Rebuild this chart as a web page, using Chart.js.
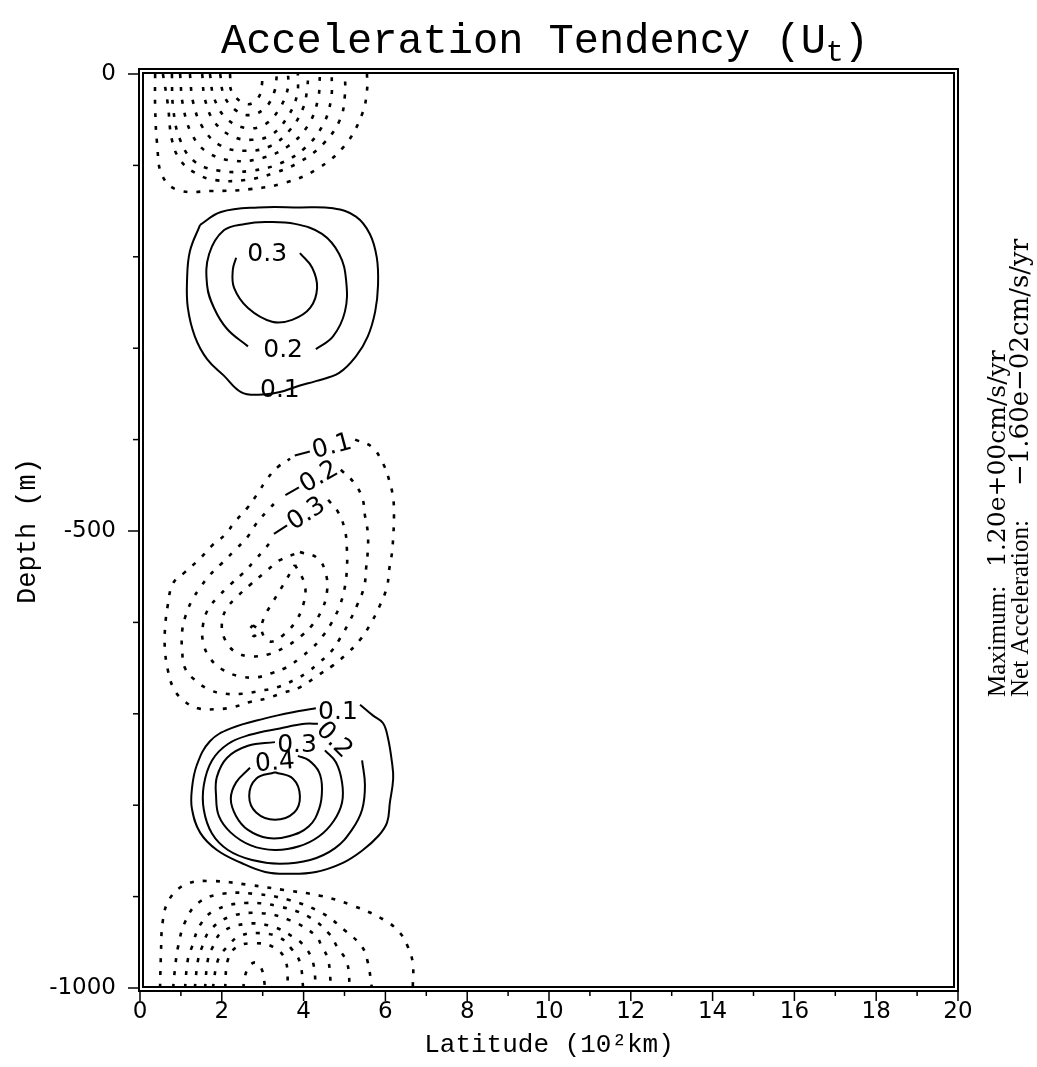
<!DOCTYPE html>
<html>
<head>
<meta charset="utf-8">
<title>Acceleration Tendency (Ut)</title>
<script src="https://cdn.jsdelivr.net/npm/chart.js@4.4.1/dist/chart.umd.min.js"></script>
<style>
  html, body { margin: 0; padding: 0; background: #fff; }
  #wrap { width: 1037px; height: 1067px; }
</style>
</head>
<body>
<div id="wrap"><canvas id="chart" width="1037" height="1067"></canvas></div>
<script>
/* ================= AXES ================= */
const latTicks = [0, 1, 2, 3, 4, 5, 6, 7, 8, 9, 10, 11, 12, 13, 14, 15, 16, 17, 18, 19, 20];
const latLabels = [0, 2, 4, 6, 8, 10, 12, 14, 16, 18, 20];
const depthTicks = [0, -100, -200, -300, -400, -500, -600, -700, -800, -900, -1000];
const depthLabels = [0, -500, -1000];

/* ================= CONTOURS ================= */
// every curve is a list of [latitude (10^2 km), depth (m)] pairs

// negative cell against the surface (curves end on the top boundary)
const topTrough = [
  [[0.37, 0], [0.37, -36], [0.42, -77], [0.54, -111], [0.93, -127], [1.76, -128], [2.69, -126], [3.55, -119], [4.33, -104], [5.01, -78], [5.43, -44], [5.55, -18], [5.55, 0]],
  [[0.56, 0], [0.68, -33], [0.78, -72], [0.98, -94], [1.34, -108], [1.83, -116], [2.57, -116], [3.30, -108], [3.91, -96], [4.47, -77], [4.89, -50], [5.01, -23], [5.01, 0]],
  [[0.78, 0], [0.81, -37], [0.98, -72], [1.34, -96], [1.96, -106], [2.69, -106], [3.42, -98], [4.03, -81], [4.47, -56], [4.67, -28], [4.69, 0]],
  [[0.98, 0], [1.05, -34], [1.27, -66], [1.66, -86], [2.32, -95], [2.98, -92], [3.62, -79], [4.11, -56], [4.35, -28], [4.40, 0]],
  [[1.22, 0], [1.30, -31], [1.54, -59], [1.96, -78], [2.57, -84], [3.18, -79], [3.67, -61], [3.99, -37], [4.09, -15], [4.11, 0]],
  [[1.52, 0], [1.59, -28], [1.83, -53], [2.25, -68], [2.74, -72], [3.23, -66], [3.62, -46], [3.84, -23], [3.86, 0]],
  [[1.71, 0], [1.81, -26], [2.10, -48], [2.57, -59], [3.06, -55], [3.42, -37], [3.62, -15], [3.62, 0]],
  [[1.96, 0], [2.05, -23], [2.32, -39], [2.69, -45], [3.06, -37], [3.28, -20], [3.35, 0]],
  [[2.20, 0], [2.25, -20], [2.62, -33], [2.89, -26], [2.98, -12], [2.98, 0]],
];

// positive cell, levels 0.1 / 0.2 / 0.3
const upperCore = [
  [[1.47, -165], [1.98, -151], [2.89, -146], [3.89, -146], [4.72, -147], [5.28, -156], [5.62, -175], [5.79, -201], [5.82, -231], [5.75, -260], [5.57, -287], [5.28, -309], [4.87, -327], [4.30, -336], [3.89, -341], [3.42, -348], [2.89, -351], [2.47, -348], [2.05, -330], [1.64, -312], [1.34, -287], [1.17, -256], [1.15, -226], [1.22, -194]],
  [[4.30, -301], [4.72, -287], [5.01, -260], [5.04, -226], [4.87, -197], [4.45, -175], [3.79, -164], [3.06, -162], [2.57, -164], [2.05, -171], [1.69, -197], [1.64, -231], [1.81, -256], [2.13, -279], [2.64, -298]],
  [[3.91, -196], [4.21, -212], [4.33, -234], [4.16, -256], [3.72, -269], [3.23, -271], [2.64, -256], [2.30, -234], [2.27, -214], [2.35, -201]],
];
const upperCoreClosed = [true, false, false];
const upperCoreLabels = [["0.3", 3.11, -198], ["0.2", 3.50, -302], ["0.1", 3.42, -346]];

// negative cell in mid depth, levels -0.1 ... -0.6
const midTrough = [
  [[5.26, -400], [5.67, -408], [5.94, -426], [6.09, -444], [6.19, -464], [6.21, -485], [6.19, -507], [6.16, -524], [6.09, -543], [6.04, -561], [5.87, -581], [5.62, -603], [5.38, -619], [5.09, -633], [4.72, -647], [4.35, -658], [3.91, -671], [3.50, -677], [3.11, -683], [2.69, -687], [2.25, -693], [1.83, -695], [1.42, -694], [1.05, -685], [0.81, -671], [0.68, -652], [0.61, -630], [0.61, -608], [0.68, -581], [0.81, -557], [1.10, -545], [1.47, -530], [1.76, -516], [2.08, -504], [2.32, -490], [2.62, -475], [2.89, -458], [3.11, -443], [3.37, -430], [3.67, -421]],
  [[4.91, -433], [5.21, -446], [5.43, -463], [5.50, -483], [5.57, -502], [5.57, -521], [5.53, -540], [5.48, -561], [5.31, -581], [5.11, -600], [4.91, -616], [4.67, -632], [4.38, -644], [4.08, -655], [3.77, -663], [3.35, -671], [2.93, -675], [2.52, -678], [2.08, -678], [1.71, -674], [1.34, -663], [1.10, -650], [1.03, -630], [1.03, -610], [1.12, -592], [1.27, -576], [1.47, -562], [1.71, -548], [2.03, -534], [2.32, -521], [2.62, -507], [2.86, -491], [3.13, -477], [3.37, -466]],
  [[4.60, -466], [4.84, -479], [5.01, -499], [5.06, -521], [5.06, -540], [5.01, -561], [4.89, -581], [4.69, -600], [4.45, -616], [4.21, -628], [3.91, -639], [3.59, -649], [3.25, -655], [2.86, -660], [2.44, -659], [2.03, -652], [1.71, -639], [1.54, -621], [1.54, -603], [1.66, -586], [1.91, -572], [2.20, -559], [2.52, -546], [2.81, -532], [3.06, -519], [3.23, -510]],
  [[3.91, -523], [4.35, -530], [4.55, -548], [4.57, -567], [4.45, -586], [4.21, -603], [3.91, -616], [3.55, -627], [3.13, -635], [2.69, -637], [2.32, -632], [2.08, -619], [2.00, -603], [2.10, -586], [2.35, -573], [2.69, -559], [3.06, -545], [3.42, -532]],
  [[3.79, -537], [4.03, -559], [3.99, -581], [3.79, -600], [3.50, -614], [3.18, -621], [2.98, -610], [3.03, -595], [3.23, -579], [3.50, -559]],
  [[2.76, -603], [2.89, -608], [2.79, -615], [2.67, -609]],
];
const midTroughClosed = [false, false, false, true, true, true];
const midTroughLabels = [["\u22120.1", 4.45, -411], ["\u22120.2", 4.16, -447], ["\u22120.3", 3.86, -488]];
const midTroughTilt = [-15, -30, -33];

// positive cell near the bottom, levels 0.1 ... 0.5
const lowerCore = [
  [[5.38, -690], [5.70, -702], [5.94, -710], [6.06, -726], [6.16, -753], [6.19, -771], [6.11, -797], [6.04, -819], [5.82, -834], [5.45, -849], [4.96, -863], [4.30, -873], [3.62, -875], [3.06, -873], [2.47, -863], [1.88, -849], [1.47, -830], [1.27, -804], [1.27, -782], [1.39, -756], [1.71, -730], [2.22, -716], [3.06, -705], [3.89, -697], [4.30, -694]],
  [[5.43, -751], [5.50, -778], [5.43, -805], [5.18, -827], [4.77, -847], [4.16, -860], [3.42, -864], [2.74, -860], [2.15, -849], [1.76, -831], [1.56, -805], [1.56, -778], [1.76, -751], [2.15, -733], [2.69, -723], [3.42, -716], [4.03, -711], [4.35, -711]],
  [[3.30, -731], [2.64, -735], [2.13, -748], [1.88, -769], [1.86, -790], [1.93, -812], [2.22, -830], [2.71, -844], [3.30, -849], [3.89, -845], [4.38, -834], [4.74, -817], [4.94, -797], [4.94, -775], [4.79, -753], [4.52, -740]],
  [[2.69, -759], [2.35, -775], [2.22, -793], [2.35, -812], [2.64, -827], [3.13, -836], [3.64, -834], [4.13, -823], [4.38, -804], [4.45, -782], [4.38, -764], [4.13, -751], [3.86, -746]],
  [[3.30, -764], [3.74, -771], [3.91, -790], [3.77, -808], [3.30, -816], [2.84, -808], [2.67, -790], [2.84, -771]],
];
const lowerCoreClosed = [false, false, false, false, true];
const lowerCoreLabels = [["0.1", 4.84, -699], ["0.2", 4.74, -729], ["0.3", 3.84, -735], ["0.4", 3.30, -754]];
const lowerCoreTilt = [0, 45, 0, -5];

// negative cell against the bottom (curves end on the bottom boundary)
const bottomTrough = [
  [[0.49, -1000], [0.51, -966], [0.56, -926], [0.73, -902], [1.15, -886], [1.76, -883], [2.64, -887], [3.55, -893], [4.40, -899], [5.21, -910], [5.99, -926], [6.36, -940], [6.55, -955], [6.67, -973], [6.67, -1000]],
  [[0.81, -1000], [0.86, -977], [0.93, -955], [1.10, -928], [1.42, -907], [2.00, -897], [2.81, -897], [3.67, -904], [4.45, -918], [5.01, -937], [5.43, -955], [5.57, -972], [5.67, -1000]],
  [[1.10, -1000], [1.17, -969], [1.27, -955], [1.47, -931], [1.83, -915], [2.57, -907], [3.42, -911], [4.16, -923], [4.65, -942], [4.82, -955], [5.06, -972], [5.13, -1000]],
  [[1.34, -1000], [1.42, -969], [1.52, -955], [1.71, -937], [2.20, -922], [2.93, -918], [3.67, -926], [4.28, -942], [4.45, -955], [4.60, -969], [4.67, -1000]],
  [[1.59, -1000], [1.66, -969], [1.78, -955], [2.00, -939], [2.57, -930], [3.18, -932], [3.74, -944], [4.03, -955], [4.23, -972], [4.30, -1000]],
  [[1.78, -1000], [1.91, -969], [2.13, -955], [2.44, -943], [2.93, -940], [3.42, -945], [3.72, -958], [3.91, -972], [3.99, -1000]],
  [[2.08, -1000], [2.15, -969], [2.37, -955], [2.81, -951], [3.25, -955], [3.55, -969], [3.62, -1000]],
  [[2.52, -1000], [2.62, -980], [2.81, -972], [2.98, -980], [3.06, -1000]],
];

/* ================= DATASETS ================= */
function curveDataset(points, closed, dashed) {
  const data = points.map(([x, y]) => ({ x, y }));
  if (closed) data.push({ ...data[0] });
  return {
    data,
    showLine: true,
    fill: false,
    borderColor: "#000",
    borderWidth: dashed ? 2.6 : 2,
    borderDash: dashed ? [4, 9] : [],
    pointRadius: 0,
    pointHoverRadius: 0,
    tension: 0.4,
  };
}

const datasets = [
  ...topTrough.map((c) => curveDataset(c, false, true)),
  ...upperCore.map((c, i) => curveDataset(c, upperCoreClosed[i], false)),
  ...midTrough.map((c, i) => curveDataset(c, midTroughClosed[i], true)),
  ...lowerCore.map((c, i) => curveDataset(c, lowerCoreClosed[i], false)),
  ...bottomTrough.map((c) => curveDataset(c, false, true)),
];

/* ================= PLUGINS ================= */
// double frame plus long/short tick marks
const framePlugin = {
  id: "frame",
  afterDatasetsDraw(chart) {
    const { ctx, chartArea: a, scales } = chart;
    ctx.save();
    ctx.strokeStyle = "#000";
    ctx.lineWidth = 2;
    ctx.strokeRect(a.left - 1, a.top - 5, a.right - a.left + 1, a.bottom - a.top + 8);
    ctx.strokeRect(a.left + 3, a.top - 1, a.right - a.left - 7, a.bottom - a.top);

    ctx.lineWidth = 1.5;
    latTicks.forEach((v) => {
      const x = scales.x.getPixelForValue(v);
      const len = latLabels.includes(v) ? 10 : 5;
      ctx.beginPath();
      ctx.moveTo(x, a.bottom + 3);
      ctx.lineTo(x, a.bottom + 3 + len);
      ctx.stroke();
    });
    depthTicks.forEach((v) => {
      const y = scales.y.getPixelForValue(v);
      const len = depthLabels.includes(v) ? 11 : 6;
      ctx.beginPath();
      ctx.moveTo(a.left - 1, y);
      ctx.lineTo(a.left - 1 - len, y);
      ctx.stroke();
    });
    ctx.restore();
  },
};

// contour level labels
function drawLabels(ctx, scales, labels, tilt) {
  labels.forEach(([text, lat, depth], i) => {
    const x = scales.x.getPixelForValue(lat);
    const y = scales.y.getPixelForValue(depth);
    ctx.save();
    ctx.translate(x, y);
    ctx.rotate(((tilt ? tilt[i] : 0) * Math.PI) / 180);
    ctx.fillText(text, 0, 0);
    ctx.restore();
  });
}

const labelPlugin = {
  id: "contourLabels",
  afterDatasetsDraw(chart) {
    const { ctx, scales } = chart;
    ctx.save();
    ctx.fillStyle = "#000";
    ctx.font = '25px "DejaVu Sans"';
    ctx.textAlign = "center";
    ctx.textBaseline = "middle";
    drawLabels(ctx, scales, upperCoreLabels, null);
    drawLabels(ctx, scales, midTroughLabels, midTroughTilt);
    drawLabels(ctx, scales, lowerCoreLabels, lowerCoreTilt);
    ctx.restore();
  },
};

// rotated text, read bottom to top, starting at (x, y)
function upText(ctx, text, x, y) {
  ctx.save();
  ctx.translate(x, y);
  ctx.rotate(-Math.PI / 2);
  ctx.fillText(text, 0, 0);
  ctx.restore();
}

// title with subscript and the summary on the right
const notesPlugin = {
  id: "notes",
  afterDraw(chart) {
    const { ctx } = chart;
    ctx.save();
    ctx.fillStyle = "#000";
    ctx.textBaseline = "alphabetic";

    const big = '42px "Liberation Mono"';
    const small = '30px "Liberation Mono"';
    const head = "Acceleration Tendency (U";
    ctx.font = big;
    const w1 = ctx.measureText(head).width;
    const w3 = ctx.measureText(")").width;
    ctx.font = small;
    const w2 = ctx.measureText("t").width;
    let x = 545 - (w1 + w2 + w3) / 2;
    ctx.font = big;
    ctx.fillText(head, x, 53);
    x += w1;
    ctx.font = small;
    ctx.fillText("t", x, 61);
    x += w2;
    ctx.font = big;
    ctx.fillText(")", x, 53);

    ctx.textAlign = "left";
    ctx.textBaseline = "middle";
    ctx.font = '25px "Liberation Serif"';
    upText(ctx, "Maximum:", 998, 697);
    upText(ctx, "Net Acceleration:", 1021, 697);
    ctx.font = '25px "DejaVu Serif"';
    upText(ctx, "1.20e+00cm/s/yr", 998, 567);
    ctx.font = '26px "DejaVu Serif"';
    upText(ctx, "\u22121.60e\u221202cm/s/yr", 1021, 486);
    ctx.restore();
  },
};

/* ================= CHART ================= */
new Chart(document.getElementById("chart"), {
  type: "scatter",
  data: { datasets },
  options: {
    responsive: false,
    animation: false,
    events: [],
    layout: { padding: { left: 0, right: 79, top: 74, bottom: 0 } },
    plugins: {
      legend: { display: false },
      tooltip: { enabled: false },
      title: { display: false },
    },
    scales: {
      x: {
        type: "linear",
        min: 0,
        max: 20,
        afterBuildTicks: (s) => { s.ticks = latTicks.map((v) => ({ value: v })); },
        afterFit: (s) => { s.height = 79; },
        grid: { display: false },
        border: { display: false },
        ticks: {
          autoSkip: false,
          maxRotation: 0,
          padding: 2,
          color: "#000",
          font: { family: "DejaVu Sans", size: 23 },
          callback: (v) => (latLabels.includes(v) ? String(v) : ""),
        },
        title: {
          display: true,
          text: "Latitude (10\u00b2km)",
          color: "#000",
          font: { family: "Liberation Mono", size: 26 },
          padding: { top: 0, bottom: 6 },
        },
      },
      y: {
        type: "linear",
        min: -1000,
        max: 0,
        afterBuildTicks: (s) => { s.ticks = depthTicks.map((v) => ({ value: v })); },
        afterFit: (s) => { s.width = 140; },
        grid: { display: false },
        border: { display: false },
        ticks: {
          autoSkip: false,
          padding: 16,
          color: "#000",
          font: { family: "DejaVu Sans", size: 23 },
          callback: (v) => (depthLabels.includes(v) ? String(v) : ""),
        },
        title: {
          display: true,
          text: "Depth (m)",
          color: "#000",
          font: { family: "Liberation Mono", size: 27 },
          padding: { top: 12, bottom: 0 },
        },
      },
    },
  },
  plugins: [framePlugin, labelPlugin, notesPlugin],
});
</script>
</body>
</html>
